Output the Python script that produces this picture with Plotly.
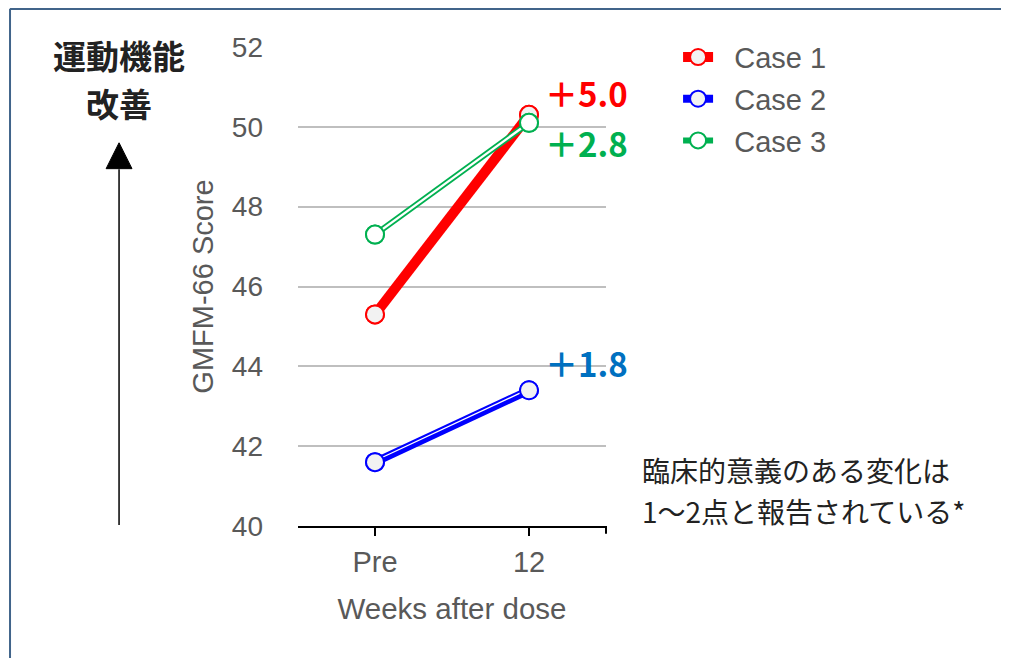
import plotly.graph_objects as go

# ---------------- data ----------------
weeks = ["Pre", "12"]
case_names = ["Case 1", "Case 2", "Case 3"]
case1 = [45.3, 50.3]
case2 = [41.6, 43.4]
case3 = [47.3, 50.1]
y_ticks = [40, 42, 44, 46, 48, 50, 52]
left_title = ["運動機能", "改善"]
note_lines = ["臨床的意義のある変化は", "1～2点と報告されている*"]

series = [case1, case2, case3]
line_colors = ["#ff0000", "#0000ff", "#00b050"]
label_colors = ["#ff0000", "#0070c0", "#00b050"]
marker_fill = ["#f2f2f2", "#f2f2f2", "#ffffff"]
line_width = [10, 8, 6]
stripe_width = [0, 1.3, 2.4]
stripe_shift = [0, 0.035, 0]  # white stripe sits a little above centre for Case 2

LAT = "Liberation Sans, Arial, sans-serif"
JP = "Noto Sans CJK JP, sans-serif"
GRAY = "#595959"
NB = "\u00a0\u00a0"

fig = go.Figure()
for i, (name, vals) in enumerate(zip(case_names, series)):
    fig.add_trace(go.Scatter(
        x=weeks, y=vals, name=NB + name, mode="lines+markers",
        legendgroup=name,
        line=dict(color=line_colors[i], width=line_width[i]),
        marker=dict(size=18, color=marker_fill[i],
                    line=dict(color=line_colors[i], width=2)),
        cliponaxis=False,
    ))
    if stripe_width[i] > 0:
        fig.add_trace(go.Scatter(
            x=weeks, y=[v + stripe_shift[i] for v in vals], mode="lines",
            showlegend=False, legendgroup=name,
            line=dict(color="white", width=stripe_width[i]),
            hoverinfo="skip", cliponaxis=False,
        ))
    fig.add_trace(go.Scatter(
        x=weeks, y=vals, mode="markers", showlegend=False, legendgroup=name,
        marker=dict(size=18, color=marker_fill[i],
                    line=dict(color=line_colors[i], width=2)),
        hoverinfo="skip", cliponaxis=False,
    ))

# change labels
label_y = [0.904, 0.340, 0.799]
for i, vals in enumerate(series):
    diff = vals[1] - vals[0]
    fig.add_annotation(
        xref="paper", yref="paper", x=0.795, y=label_y[i],
        xanchor="left", yanchor="middle", showarrow=False,
        text="<b>＋{:.1f}</b>".format(diff),
        font=dict(family=JP, size=33, color=label_colors[i]),
    )

# left title (two lines, separate boxes)
for t, yy in zip(left_title, [0.984, 0.883]):
    fig.add_annotation(
        xref="paper", yref="paper", x=-0.581, y=yy,
        xanchor="center", yanchor="middle", showarrow=False,
        text="<b>" + t + "</b>",
        font=dict(family=JP, size=33, color="#222222"),
    )

# right note (two lines, separate boxes)
for t, yy in zip(note_lines, [0.117, 0.031]):
    fig.add_annotation(
        xref="paper", yref="paper", x=1.11, y=yy,
        xanchor="left", yanchor="middle", showarrow=False,
        text=t, font=dict(family=JP, size=28, color="#222222"),
    )

shapes = [
    # frame
    dict(type="line", xref="paper", yref="paper", x0=-0.935, x1=-0.935, y0=1.08, y1=-0.35,
         line=dict(color="#41648a", width=2)),
    dict(type="line", xref="paper", yref="paper", x0=-0.935, x1=2.4, y0=1.0793, y1=1.0793,
         line=dict(color="#41648a", width=2)),
    # arrow shaft
    dict(type="line", xref="paper", yref="paper", x0=-0.581, x1=-0.581, y0=0.002, y1=0.745,
         line=dict(color="#000000", width=1.5)),
    # arrow head
    dict(type="path", xref="paper", yref="paper",
         path="M -0.581 0.800 L -0.623 0.746 L -0.539 0.746 Z",
         fillcolor="#000000", line=dict(color="#000000", width=1)),
    # end tick of x axis
    dict(type="line", xref="paper", yref="paper", x0=1, x1=1, y0=0, y1=-0.016,
         line=dict(color="#000000", width=2)),
]

fig.update_layout(
    width=1001, height=650,
    margin=dict(l=290, r=403, t=39, b=132),
    paper_bgcolor="white", plot_bgcolor="white",
    shapes=shapes,
    legend=dict(x=1.234, y=1.032, xanchor="left", yanchor="top",
                font=dict(family=LAT, size=29, color=GRAY),
                itemwidth=30, tracegroupgap=1, bgcolor="rgba(0,0,0,0)"),
    xaxis=dict(type="category", range=[-0.5, 1.5],
               showline=True, linecolor="#000000", linewidth=2,
               ticks="outside", ticklen=8, tickwidth=2, tickcolor="#000000",
               showgrid=False, zeroline=False,
               tickfont=dict(family=LAT, size=29, color=GRAY),
               ticklabelstandoff=1,
               title=dict(text="Weeks after dose", standoff=22,
                          font=dict(family=LAT, size=29.5, color=GRAY))),
    yaxis=dict(range=[40, 52], tickvals=y_ticks,
               showgrid=True, gridcolor="#bfbfbf", gridwidth=1.5,
               zeroline=False, showline=False, ticks="",
               tickfont=dict(family=LAT, size=28, color=GRAY),
               ticklabelstandoff=34,
               title=dict(text="GMFM-66 Score", standoff=9,
                          font=dict(family=LAT, size=29, color=GRAY))),
    showlegend=True,
)

fig.write_html("out.html")
